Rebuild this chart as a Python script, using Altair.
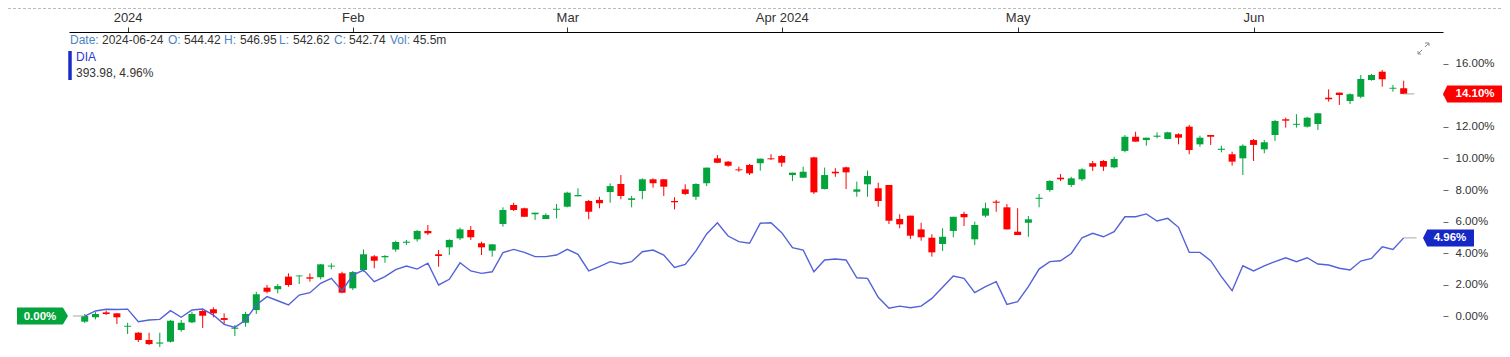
import altair as alt
import pandas as pd

# ---- data (percent change from base) ----
opens = [-0.36, -0.08, 0.23, 0.17, -0.68, -1.06, -1.52, -1.75, -1.63, -0.89,
         -0.40, 0.32, 0.43, -0.13, -0.81, -0.43, 0.38, 1.80, 1.70, 2.50,
         2.52, 2.46, 2.46, 3.14, 2.71, 1.76, 2.92, 3.79, 3.73, 4.22,
         4.65, 4.87, 5.40, 3.92, 4.36, 4.93, 5.46, 4.62, 4.15, 5.84,
         7.05, 6.84, 6.46, 6.16, 6.75, 6.94, 7.60, 7.30, 7.37, 7.87,
         8.38, 7.37, 7.94, 8.68, 8.68, 7.30, 8.04, 7.57, 8.43, 10.01,
         9.80, 9.31, 9.59, 9.70, 10.01, 10.16, 8.95, 8.78, 10.07, 8.06,
         9.16, 9.44, 7.89, 8.36, 8.11, 8.32, 6.16, 6.37, 5.50, 4.97,
         4.57, 5.40, 6.48, 4.87, 6.37, 7.26, 6.90, 5.35, 5.92, 7.44,
         8.00, 8.78, 8.32, 8.68, 9.70, 9.84, 9.44, 10.48, 11.38, 11.17,
         11.38, 11.24, 11.54, 12.02, 10.90, 11.49, 10.55, 10.27, 10.01, 11.17,
         10.58, 11.49, 12.49, 12.14, 12.02, 12.19, 13.86, 14.18, 13.65, 13.92,
         14.98, 15.51, 14.43, 14.46]
highs = [0.13, 0.27, 0.34, 0.19, -0.43, -1.02, -1.06, -1.06, -0.25, -0.25,
         0.27, 0.38, 0.55, 0.17, -0.57, 0.27, 1.54, 1.97, 2.03, 2.71,
         2.60, 2.71, 3.30, 3.35, 2.81, 2.86, 4.23, 3.87, 3.87, 4.78,
         4.83, 5.46, 5.78, 4.19, 4.87, 5.61, 5.71, 4.72, 4.57, 6.90,
         7.19, 6.88, 6.56, 6.52, 7.11, 7.89, 8.11, 7.37, 7.57, 8.42,
         8.95, 7.62, 8.74, 8.74, 8.68, 7.54, 8.36, 8.43, 9.42, 10.22,
         9.84, 9.48, 9.65, 9.99, 10.27, 10.22, 9.10, 9.48, 10.11, 9.42,
         9.38, 9.48, 8.53, 9.23, 8.46, 8.32, 6.46, 6.37, 5.92, 5.19,
         5.57, 6.30, 6.62, 5.99, 7.19, 7.37, 7.11, 6.84, 6.35, 7.75,
         8.63, 9.02, 8.84, 9.38, 9.84, 9.90, 10.11, 11.49, 11.70, 11.32,
         11.66, 11.70, 11.60, 12.13, 11.45, 11.49, 10.81, 10.43, 10.90, 11.24,
         11.17, 12.44, 12.59, 12.81, 12.65, 12.87, 14.39, 14.18, 14.14, 15.30,
         15.37, 15.62, 14.67, 14.94]
lows = [-0.44, -0.21, 0.06, -0.51, -1.14, -1.65, -1.84, -1.97, -1.68, -1.00,
        -0.46, -0.76, -0.08, -0.51, -1.27, -0.68, 0.13, 1.44, 1.44, 1.86,
        2.03, 2.18, 2.33, 2.97, 1.44, 1.65, 2.81, 3.03, 3.38, 4.08,
        4.51, 4.72, 5.14, 3.13, 3.87, 4.83, 4.83, 3.87, 3.77, 5.67,
        6.67, 6.30, 6.10, 6.16, 6.20, 6.90, 7.60, 6.14, 6.84, 7.19,
        7.41, 6.90, 7.41, 8.15, 7.62, 6.77, 7.68, 7.37, 8.25, 9.70,
        9.48, 9.16, 8.95, 9.23, 9.90, 9.48, 8.57, 8.78, 7.75, 8.04,
        8.84, 8.06, 7.57, 7.57, 6.94, 5.84, 5.57, 4.89, 4.78, 3.77,
        4.13, 5.00, 5.71, 4.51, 6.27, 6.62, 5.50, 5.14, 5.03, 6.90,
        7.89, 8.57, 8.19, 8.57, 9.21, 9.21, 9.38, 10.39, 11.07, 10.81,
        11.28, 11.22, 10.90, 10.27, 10.75, 10.86, 10.39, 9.54, 8.95, 9.84,
        10.33, 11.11, 11.96, 11.96, 11.96, 11.81, 13.61, 13.40, 13.46, 13.82,
        14.94, 14.56, 14.24, 14.08]
closes = [0.00, 0.13, 0.13, -0.08, -0.62, -1.52, -1.78, -1.68, -0.30, -0.43,
          0.13, 0.02, 0.17, -0.25, -0.74, 0.13, 1.38, 1.54, 1.90, 1.97,
          2.57, 2.37, 3.28, 3.20, 1.48, 2.79, 3.92, 3.51, 3.81, 4.70,
          4.72, 5.40, 5.25, 3.81, 4.83, 5.50, 5.00, 4.36, 4.55, 6.73,
          6.73, 6.30, 6.56, 6.41, 6.81, 7.83, 7.68, 6.62, 7.16, 8.25,
          7.62, 7.47, 8.68, 8.43, 8.21, 7.22, 7.75, 8.38, 9.42, 9.73,
          9.54, 9.25, 9.06, 9.99, 9.95, 9.73, 9.10, 9.16, 7.85, 8.95,
          9.06, 9.12, 8.04, 8.89, 7.30, 6.05, 5.82, 5.10, 5.00, 4.04,
          5.03, 6.30, 6.27, 5.78, 6.84, 7.19, 5.50, 5.14, 6.14, 7.51,
          8.57, 8.68, 8.74, 9.31, 9.48, 9.48, 9.97, 11.38, 11.07, 11.32,
          11.45, 11.66, 11.32, 10.54, 11.32, 11.38, 10.62, 9.80, 10.81, 10.86,
          11.03, 12.38, 12.40, 12.20, 12.59, 12.87, 13.76, 14.03, 14.08, 15.05,
          15.30, 15.03, 14.49, 14.10]
dia = [0.00, 0.32, 0.43, 0.41, 0.44, -0.36, -0.25, -0.21, 0.34, -0.08,
       0.38, 0.44, 0.06, -0.53, -0.72, -0.25, 0.70, 1.23, 0.97, 0.70,
       1.33, 1.48, 2.08, 2.39, 1.61, 2.60, 2.92, 2.18, 2.50, 2.95,
       3.17, 2.98, 3.35, 1.97, 2.33, 3.38, 2.86, 2.71, 2.81, 4.02,
       4.23, 4.04, 3.77, 3.77, 3.87, 4.23, 3.92, 2.86, 3.13, 3.45,
       3.30, 3.45, 4.08, 4.19, 3.87, 3.09, 3.28, 4.13, 5.21, 5.92,
       5.08, 4.72, 4.62, 5.89, 5.92, 5.29, 4.34, 4.19, 2.81, 3.56,
       3.62, 3.56, 2.43, 2.39, 1.19, 0.49, 0.63, 0.53, 0.63, 1.12,
       1.82, 2.54, 2.39, 1.48, 1.86, 2.18, 0.74, 0.91, 1.86, 2.98,
       3.45, 3.51, 3.97, 4.97, 5.25, 5.03, 5.35, 6.30, 6.30, 6.48,
       6.03, 6.20, 5.63, 4.04, 4.04, 3.51, 2.50, 1.61, 3.19, 2.86,
       3.19, 3.45, 3.70, 3.45, 3.70, 3.30, 3.24, 3.03, 2.92, 3.49,
       3.66, 4.40, 4.23, 4.96]

tick_index = [4, 25, 45, 65, 87, 109]
tick_labels = ["2024", "Feb", "Mar", "Apr 2024", "May", "Jun"]
y_ticks = [0, 2, 4, 6, 8, 10, 12, 14, 16]

legend_parts = ["Date:", "2024-06-24", "O:", "544.42", "H:", "546.95",
                "L:", "542.62", "C:", "542.74", "Vol:", "45.5m"]
legend_is_label = [True, False, True, False, True, False,
                   True, False, True, False, True, False]
series_name = "DIA"
series_info = "393.98, 4.96%"

# ---- styles / layout ----
GREEN = "#03a43c"
RED = "#fe0000"
LINE_BLUE = "#5262d8"
TAG_BLUE = "#1528c6"
LABEL_BLUE = "#4a86c4"
TXT = "#333333"
FONT = "Liberation Sans"
W, H = 1374, 316

n = min(len(opens), len(highs), len(lows), len(closes), len(dia))
df = pd.DataFrame({
    "i": list(range(n)),
    "o": opens[:n], "h": highs[:n], "l": lows[:n], "c": closes[:n],
    "dia": dia[:n],
})
df["dir"] = ["up" if c >= o else "down" for o, c in zip(df["o"], df["c"])]

xs = alt.Scale(domain=[-1, 126.2], nice=False, zero=False)
ys = alt.Scale(domain=[-2.03, 18.03], nice=False, zero=False)
color = alt.Color("dir:N", scale=alt.Scale(domain=["up", "down"], range=[GREEN, RED]), legend=None)

label_expr = " : ".join(
    f"datum.value == {v} ? '{t}'" for v, t in zip(tick_index, tick_labels)
) + " : ''"

x_axis = alt.Axis(orient="top", values=tick_index, labelExpr=label_expr, grid=False, title="",
                  domainColor="#000000", domainWidth=1, tickColor="#333333", tickSize=5,
                  labelFontSize=13, labelColor=TXT, labelFont=FONT, labelPadding=3)
y_axis = alt.Axis(orient="right", values=y_ticks, labelExpr="format(datum.value, '.2f') + '%'",
                  domain=False, grid=False, title="", tickColor="#666666", tickSize=5,
                  labelFontSize=11.5, labelColor=TXT, labelFont=FONT, labelPadding=7)


def X(field, **kw):
    return alt.X(field, scale=xs, axis=x_axis, **kw)


def Y(field=None, **kw):
    if field is None:
        return alt.Y(scale=ys, axis=y_axis, **kw)
    return alt.Y(field, scale=ys, axis=y_axis, **kw)


base = alt.Chart(df)
wicks = base.mark_rule(strokeWidth=1).encode(
    x=X("i:Q"), y=Y("l:Q"), y2="h:Q", color=color,
)
bodies = base.mark_bar(size=7).encode(
    x=X("i:Q"), y=Y("o:Q"), y2="c:Q", color=color,
)
line = base.mark_line(color=LINE_BLUE, strokeWidth=1.4).encode(
    x=X("i:Q"), y=Y("dia:Q"),
)

last = n - 1
conn = pd.DataFrame({
    "x": [-1.1, last, last],
    "x2": [0, last + 1.0, last + 1.2],
    "y": [0.0, closes[last], dia[last]],
})
connectors = alt.Chart(conn).mark_rule(color="#a8a8a8", strokeWidth=1).encode(
    x=X("x:Q"), x2="x2:Q", y=Y("y:Q"),
)

layers = [wicks, bodies, line, connectors]

# value tags (shape drawn with a custom symbol path, unit = 8.5 px)
tag_specs = [
    (0.0, "0.00%", GREEN, -1, -29, "M0,0L-0.6,-1L-6,-1L-6,1L-0.6,1Z"),
    (closes[last], f"{closes[last]:.2f}%", RED, W, W + 32, "M0,0L0.5,-1L7,-1L7,1L0.5,1Z"),
    (dia[last], f"{dia[last]:.2f}%", TAG_BLUE, W - 20, W + 7, "M0,0L0.5,-1L6,-1L6,1L0.5,1Z"),
]
one = pd.DataFrame({"a": [0]})
for v, txt, col, tip, tx, path in tag_specs:
    layers.append(alt.Chart(one).mark_point(filled=True, opacity=1, strokeWidth=0, size=289,
                                            shape=path, color=col).encode(
        x=alt.value(tip), y=Y(datum=v)))
    layers.append(alt.Chart(one).mark_text(color="white", fontWeight="bold", fontSize=11.5, font=FONT,
                                           align="center", baseline="middle", dy=0.5, text=txt).encode(
        x=alt.value(tx), y=Y(datum=v)))

# top-left info legend
leg_x = [1, 33, 99, 115, 155, 171, 210, 224, 265, 280, 321, 344]
for t, is_lab, lx in zip(legend_parts, legend_is_label, leg_x):
    layers.append(alt.Chart(one).mark_text(fontSize=12, font=FONT, align="left", baseline="alphabetic",
                                           text=t, color=LABEL_BLUE if is_lab else TXT).encode(
        x=alt.value(lx), y=alt.value(11.5)))
layers.append(alt.Chart(one).mark_text(fontSize=12, font=FONT, align="left", baseline="alphabetic",
                                       text=series_name, color="#2a3bd0").encode(
    x=alt.value(7), y=alt.value(29)))
layers.append(alt.Chart(one).mark_text(fontSize=12, font=FONT, align="left", baseline="alphabetic",
                                       text=series_info, color=TXT).encode(
    x=alt.value(7), y=alt.value(45)))
layers.append(alt.Chart(one).mark_rule(color="#1b2bc8", strokeWidth=3.5).encode(
    x=alt.value(1), y=alt.value(19), y2=alt.value(48)))

# expand icon
for (x1, x2, y1, y2) in [(1356, 1360, 15, 11), (1356, 1360, 11, 11), (1360, 1360, 11, 14),
                         (1349, 1353, 22, 18), (1349, 1352, 22, 22), (1349, 1349, 22, 19)]:
    layers.append(alt.Chart(one).mark_rule(color="#8a8a8a", strokeWidth=1).encode(
        x=alt.value(x1), x2=alt.value(x2), y=alt.value(y1), y2=alt.value(y2)))

# top dashed border
layers.append(alt.Chart(one).mark_rule(color="#bbbbbb", strokeWidth=1, strokeDash=[3, 2]).encode(
    x=alt.value(-61), x2=alt.value(W + 59), y=alt.value(-23.5)))

chart = alt.layer(*layers).properties(
    width=W, height=H,
    padding={"left": 61, "top": 24, "right": 59, "bottom": 0},
    autosize=alt.AutoSizeParams(type="none"),
    background="white",
).configure_view(stroke=None)

chart.save("out.html", embed_options={"renderer": "svg", "actions": False})
